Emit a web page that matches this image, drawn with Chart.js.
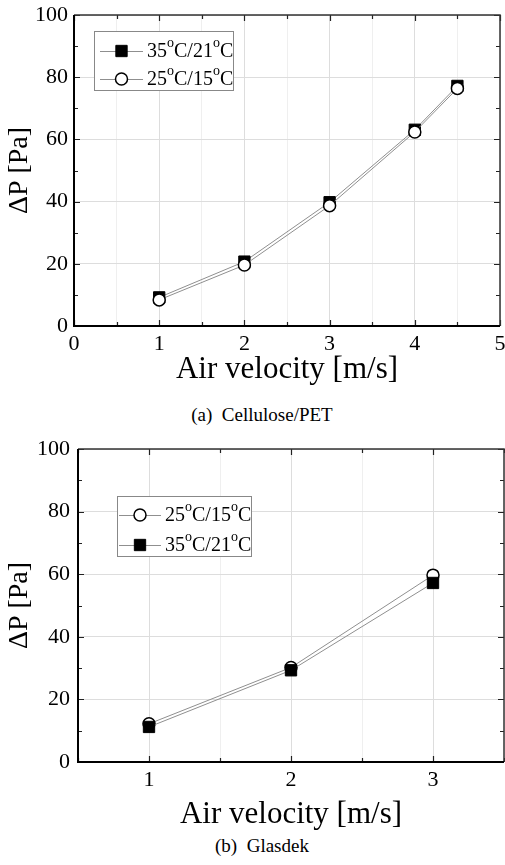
<!DOCTYPE html>
<html>
<head>
<meta charset="utf-8">
<script src="https://cdn.jsdelivr.net/npm/chart.js@4.4.1/dist/chart.umd.min.js"></script>
<style>
  body { margin: 0; background: #fff; width: 505px; height: 865px; overflow: hidden; position: relative; font-family: "Liberation Serif", serif; }
  canvas { position: absolute; left: 0; }
  .caption { position: absolute; left: 0; width: 524px; text-align: center; font-family: "Liberation Serif", serif; font-size: 19px; line-height: 20px; color: #000; }
</style>
</head>
<body>
<canvas id="chartA" width="505" height="388" style="top:0"></canvas>
<div class="caption" style="top:405px">(a)&nbsp;&nbsp;Cellulose/PET</div>
<canvas id="chartB" width="505" height="403" style="top:430px"></canvas>
<div class="caption" style="top:836px">(b)&nbsp;&nbsp;Glasdek</div>
<script>
// (a) Cellulose/PET
const velocityA = [1, 2, 3, 4, 4.5];
const dpHotA = [9.2, 20.7, 39.8, 63.1, 77.2];    // 35°C/21°C
const dpMildA = [8.4, 19.6, 38.7, 62.4, 76.4];   // 25°C/15°C
const xLabelsA = [0, 1, 2, 3, 4, 5];

// (b) Glasdek
const velocityB = [1, 2, 3];
const dpMildB = [12.2, 30.2, 59.7];              // 25°C/15°C
const dpHotB = [11.2, 29.3, 57.2];               // 35°C/21°C
const xLabelsB = [1, 2, 3];

const yLabels = [0, 20, 40, 60, 80, 100];
const labelHot = "35°C/21°C";
const labelMild = "25°C/15°C";

const FAMILY = '"Liberation Serif", "Times New Roman", serif';
Chart.defaults.font.family = FAMILY;
Chart.defaults.color = '#000';

function toPoints(xs, ys) {
    return xs.map((x, i) => ({ x: x, y: ys[i] }));
}

function hotSet(xs, ys, order) {
    return {
        label: labelHot, data: toPoints(xs, ys), showLine: true, order: order,
        borderColor: '#8f8f8f', borderWidth: 1,
        pointStyle: 'rect', pointRadius: 8, pointBorderWidth: 1,
        pointBackgroundColor: '#000', pointBorderColor: '#000'
    };
}

function mildSet(xs, ys, order) {
    return {
        label: labelMild, data: toPoints(xs, ys), showLine: true, order: order,
        borderColor: '#8f8f8f', borderWidth: 1,
        pointStyle: 'circle', pointRadius: 6, pointBorderWidth: 1.5,
        pointBackgroundColor: '#fff', pointBorderColor: '#000'
    };
}

// inward tick marks + frame, like the origin plot
const frameTicks = {
    id: 'frameTicks',
    afterDraw(chart) {
        const { ctx, chartArea: a, scales: { x, y } } = chart;
        ctx.save();
        ctx.strokeStyle = '#222';
        ctx.lineWidth = 1.2;
        ctx.beginPath();
        x.ticks.forEach(t => {
            const px = Math.round(x.getPixelForValue(t.value)) + 0.5;
            const len = Number.isInteger(t.value) ? 6 : 4;
            ctx.moveTo(px, a.bottom); ctx.lineTo(px, a.bottom - len);
            ctx.moveTo(px, a.top); ctx.lineTo(px, a.top + len);
        });
        y.ticks.forEach(t => {
            const py = Math.round(y.getPixelForValue(t.value)) + 0.5;
            const len = t.value % 20 === 0 ? 6 : 4;
            ctx.moveTo(a.left, py); ctx.lineTo(a.left + len, py);
            ctx.moveTo(a.right, py); ctx.lineTo(a.right - len, py);
        });
        ctx.stroke();
        ctx.strokeStyle = '#333';
        ctx.lineWidth = 1.5;
        ctx.beginPath();
        ctx.moveTo(a.left, a.top); ctx.lineTo(a.right, a.top); ctx.lineTo(a.right, a.bottom);
        ctx.stroke();
        ctx.strokeStyle = '#000';
        ctx.lineWidth = 2;
        ctx.beginPath();
        ctx.moveTo(a.left, a.top); ctx.lineTo(a.left, a.bottom); ctx.lineTo(a.right, a.bottom);
        ctx.stroke();
        ctx.restore();
    }
};

function drawMarker(ctx, ds, cx, cy) {
    ctx.save();
    ctx.lineWidth = ds.pointBorderWidth;
    ctx.strokeStyle = ds.pointBorderColor;
    ctx.fillStyle = ds.pointBackgroundColor;
    ctx.beginPath();
    if (ds.pointStyle === 'rect') {
        const h = ds.pointRadius * Math.SQRT1_2;
        ctx.rect(cx - h, cy - h, 2 * h, 2 * h);
    } else {
        ctx.arc(cx, cy, ds.pointRadius, 0, Math.PI * 2);
    }
    ctx.fill();
    ctx.stroke();
    ctx.restore();
}

function drawDegreeText(ctx, text, x, baseY) {
    const parts = text.split('°');
    let cx = x;
    ctx.textBaseline = 'alphabetic';
    ctx.textAlign = 'left';
    ctx.fillStyle = '#000';
    parts.forEach((p, i) => {
        ctx.font = '20px ' + FAMILY;
        ctx.fillText(p, cx, baseY);
        cx += ctx.measureText(p).width;
        if (i < parts.length - 1) {
            ctx.font = '14px ' + FAMILY;
            ctx.fillText('o', cx, baseY - 10);
            cx += ctx.measureText('o').width;
        }
    });
}

// boxed legend sitting inside the plot
const boxLegend = {
    id: 'boxLegend',
    afterDraw(chart, args, opts) {
        const ctx = chart.ctx;
        ctx.save();
        ctx.fillStyle = '#fff';
        ctx.fillRect(opts.left, opts.top, opts.width, opts.height);
        ctx.strokeStyle = '#888';
        ctx.lineWidth = 1;
        ctx.strokeRect(opts.left + 0.5, opts.top + 0.5, opts.width, opts.height);
        opts.items.forEach((dsIndex, i) => {
            const ds = chart.data.datasets[dsIndex];
            const rowY = opts.rows[i];
            ctx.strokeStyle = ds.borderColor;
            ctx.lineWidth = 1;
            ctx.beginPath();
            ctx.moveTo(opts.lineX[0], rowY + 0.5);
            ctx.lineTo(opts.lineX[1], rowY + 0.5);
            ctx.stroke();
            drawMarker(ctx, ds, (opts.lineX[0] + opts.lineX[1]) / 2, rowY);
            drawDegreeText(ctx, ds.label, opts.textX, rowY + 6);
        });
        ctx.restore();
    }
};

function makeChart(canvasId, datasets, s) {
    const ctx = document.getElementById(canvasId).getContext('2d');
    return new Chart(ctx, {
        type: 'scatter',
        data: { datasets: datasets },
        plugins: [frameTicks, boxLegend],
        options: {
            responsive: false,
            animation: false,
            layout: { padding: s.padding, autoPadding: false },
            plugins: {
                legend: { display: false },
                tooltip: { enabled: false },
                boxLegend: s.legend
            },
            scales: {
                x: {
                    type: 'linear',
                    min: s.xMin, max: s.xMax,
                    border: { display: false },
                    grid: {
                        drawTicks: false,
                        color: c => Number.isInteger(c.tick.value) ? '#dddddd' : '#efefef',
                        lineWidth: 1
                    },
                    ticks: {
                        stepSize: 0.5, autoSkip: false, maxRotation: 0, padding: 5,
                        font: { family: FAMILY, size: 22 },
                        callback: v => s.xLabels.includes(v) ? String(v) : ''
                    },
                    title: {
                        display: true, text: 'Air velocity [m/s]', padding: 0,
                        font: { family: FAMILY, size: 31 }
                    },
                    afterFit: sc => {
                        sc.height = s.xHeight;
                        sc.paddingLeft = 0;
                        sc.paddingRight = 0;
                    }
                },
                y: {
                    min: 0, max: 100,
                    border: { display: false },
                    grid: {
                        drawTicks: false,
                        color: c => c.tick.value % 20 === 0 ? '#dddddd' : 'rgba(0,0,0,0)',
                        lineWidth: 1
                    },
                    ticks: {
                        stepSize: 10, padding: s.yPad,
                        font: { family: FAMILY, size: 22 },
                        callback: v => yLabels.includes(v) ? String(v) : ''
                    },
                    title: {
                        display: true, text: 'ΔP [Pa]', padding: { top: 3, bottom: 0 },
                        font: { family: FAMILY, size: 28 }
                    },
                    afterFit: sc => {
                        sc.width = s.yWidth;
                        sc.paddingTop = 0;
                        sc.paddingBottom = 0;
                    }
                }
            }
        }
    });
}

makeChart('chartA', [
    hotSet(velocityA, dpHotA, 1),
    mildSet(velocityA, dpMildA, 0)
], {
    padding: { top: 15, right: 5, bottom: 0, left: 0 },
    xMin: 0, xMax: 5, xLabels: xLabelsA, xHeight: 62, yWidth: 74, yPad: 6,
    legend: { left: 94, top: 31, width: 139, height: 59, rows: [51, 79], lineX: [100, 143], textX: 147, items: [0, 1] }
});

makeChart('chartB', [
    mildSet(velocityB, dpMildB, 1),
    hotSet(velocityB, dpHotB, 0)
], {
    padding: { top: 19, right: 1, bottom: 0, left: 0 },
    xMin: 0.5, xMax: 3.5, xLabels: xLabelsB, xHeight: 71, yWidth: 78, yPad: 8,
    legend: { left: 117, top: 66, width: 134, height: 60, rows: [85, 115], lineX: [119, 161], textX: 165, items: [0, 1] }
});
</script>
</body>
</html>
